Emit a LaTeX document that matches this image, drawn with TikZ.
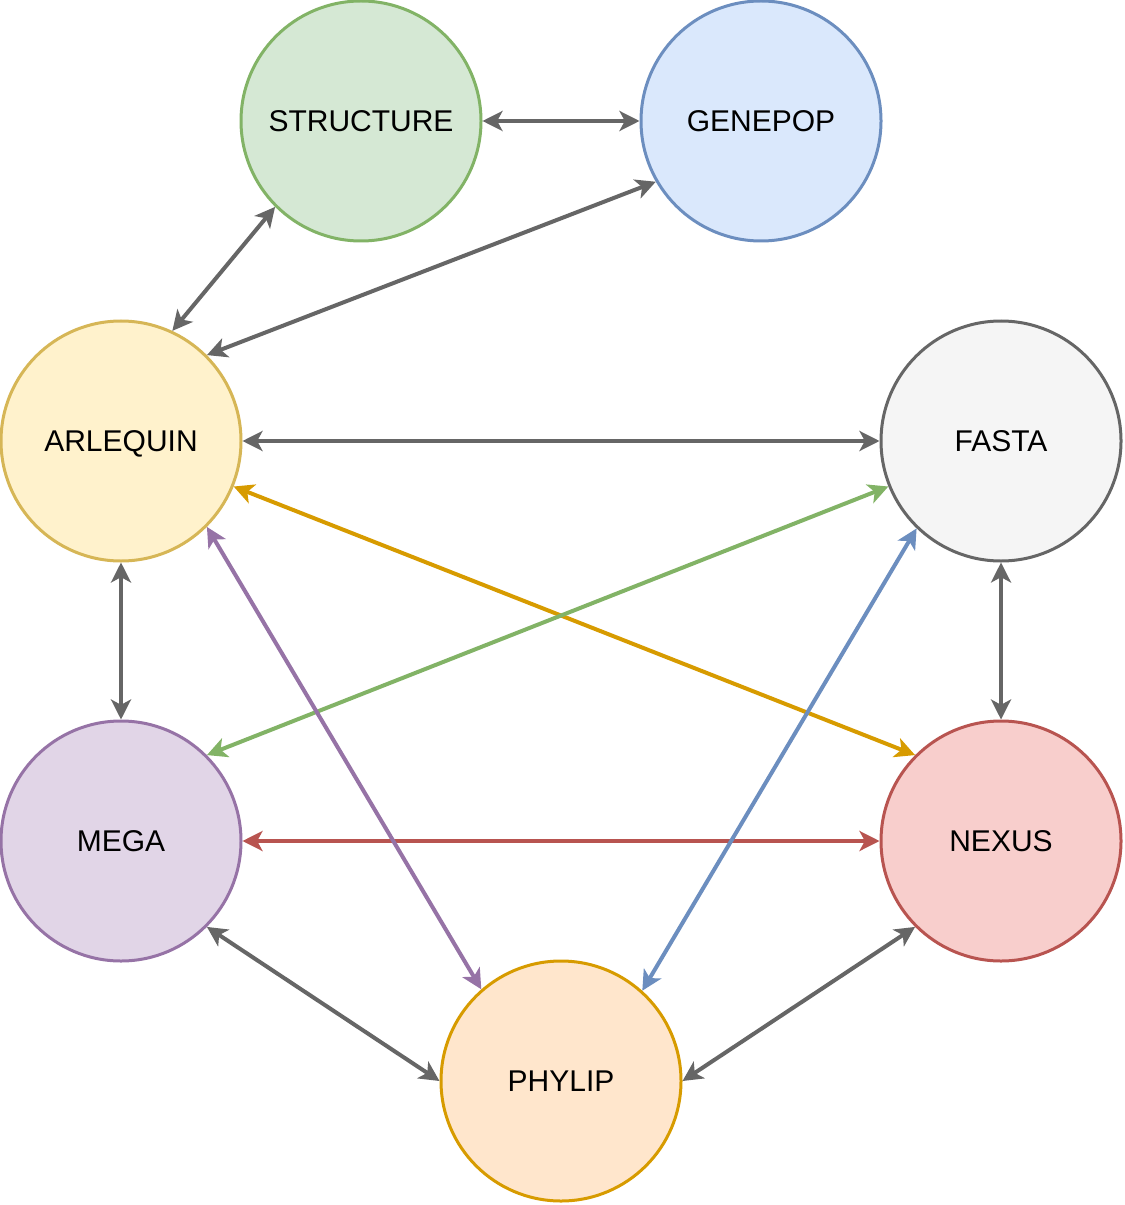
\documentclass[tikz,border=0pt]{standalone}
\usepackage{fontspec}
\setmainfont{Liberation Sans}
\usetikzlibrary{arrows.meta}

\definecolor{greenfill}{HTML}{D5E8D4}\definecolor{greenline}{HTML}{82B366}
\definecolor{bluefill}{HTML}{DAE8FC}\definecolor{blueline}{HTML}{6C8EBF}
\definecolor{yellowfill}{HTML}{FFF2CC}\definecolor{yellowline}{HTML}{D6B656}
\definecolor{grayfill}{HTML}{F5F5F5}\definecolor{grayline}{HTML}{666666}
\definecolor{purplefill}{HTML}{E1D5E7}\definecolor{purpleline}{HTML}{9673A6}
\definecolor{redfill}{HTML}{F8CECC}\definecolor{redline}{HTML}{B85450}
\definecolor{orangefill}{HTML}{FFE6CC}\definecolor{orangeline}{HTML}{D79B00}

\tikzset{
  format/.style={circle, minimum size=180pt, inner sep=0pt, line width=2.25pt,
    text height=16pt, text depth=0pt, font=\fontsize{22.5}{27}\selectfont},
  link/.style={line width=3pt, draw=grayline, <->,
    >={Stealth[length=15pt, width=15pt, inset=4pt]}}
}

\begin{document}
\begin{tikzpicture}[x=0.75pt,y=0.75pt,yscale=-1,xscale=1]
\useasboundingbox (0,0) rectangle (1124,1205);

% Formats
\node [format, draw=greenline, fill=greenfill] (structure) at (361,121) {STRUCTURE};
\node [format, draw=blueline, fill=bluefill] (genepop) at (761,121) {GENEPOP};
\node [format, draw=yellowline, fill=yellowfill] (arlequin) at (121,441) {ARLEQUIN};
\node [format, draw=grayline, fill=grayfill] (fasta) at (1001,441) {FASTA};
\node [format, draw=purpleline, fill=purplefill] (mega) at (121,841) {MEGA};
\node [format, draw=redline, fill=redfill] (nexus) at (1001,841) {NEXUS};
\node [format, draw=orangeline, fill=orangefill] (phylip) at (561,1081) {PHYLIP};

% Conversions
\draw [link] (structure) -- (genepop);
\draw [link] (structure.225) -- (arlequin.65);
\draw [link] (genepop.210) -- (arlequin.45);
\draw [link] (arlequin) -- (fasta);
\draw [link] (arlequin) -- (mega);
\draw [link] (fasta) -- (nexus);
\draw [link] (mega.-45) -- (phylip.180);
\draw [link] (nexus.225) -- (phylip.0);
\draw [link, draw=redline] (mega) -- (nexus);
\draw [link, draw=orangeline] (arlequin.-22.5) -- (nexus.135);
\draw [link, draw=greenline] (fasta.202.5) -- (mega.45);
\draw [link, draw=blueline] (fasta.226) -- (phylip.48);
\draw [link, draw=purpleline] (arlequin.-45) -- (phylip.131);

\end{tikzpicture}
\end{document}
